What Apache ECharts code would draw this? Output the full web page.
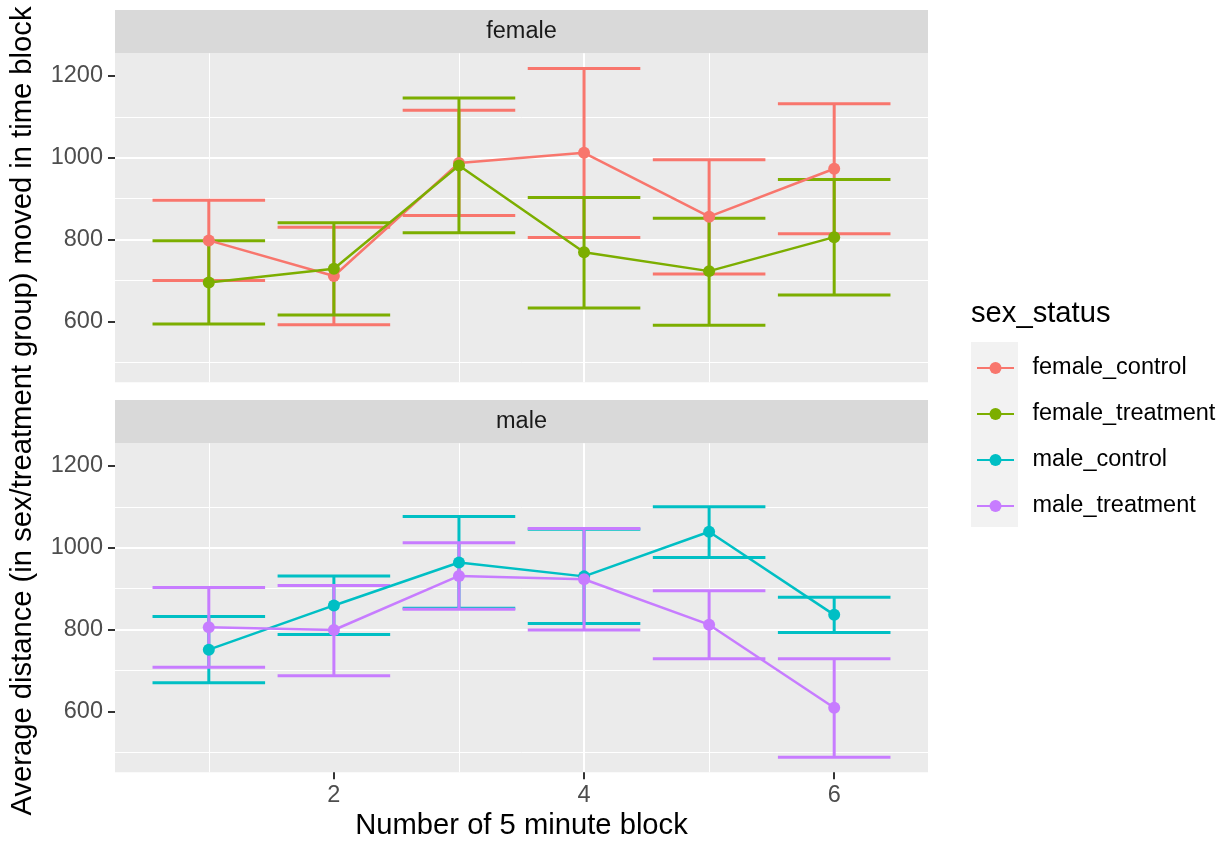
<!DOCTYPE html>
<html>
<head>
<meta charset="utf-8">
<script src="https://cdn.jsdelivr.net/npm/echarts@6/dist/echarts.min.js"></script>
<style>
  html, body { margin: 0; padding: 0; background: #ffffff; }
  #chart { width: 1225px; height: 841px; }
</style>
</head>
<body>
<div id="chart"></div>
<script>
// ---------------- data ----------------
const blocks = [1, 2, 3, 4, 5, 6];
const groupNames = ['female_control', 'female_treatment', 'male_control', 'male_treatment'];
const facetNames = ['female', 'male'];
const xTickLabels = [2, 4, 6];
const yTickLabels = [600, 800, 1000, 1200];

const femaleControlMean  = [798, 711, 987, 1012, 856, 973];
const femaleControlLower = [700, 592, 859, 805, 716, 814];
const femaleControlUpper = [896, 830, 1116, 1218, 995, 1132];

const femaleTreatmentMean  = [695, 729, 981, 769, 723, 806];
const femaleTreatmentLower = [594, 616, 817, 633, 591, 665];
const femaleTreatmentUpper = [797, 841, 1146, 903, 852, 947];

const maleControlMean  = [751, 859, 964, 930, 1039, 836];
const maleControlLower = [670, 788, 852, 815, 976, 793];
const maleControlUpper = [832, 931, 1076, 1045, 1100, 879];

const maleTreatmentMean  = [806, 799, 931, 923, 812, 609];
const maleTreatmentLower = [708, 687, 850, 799, 729, 488];
const maleTreatmentUpper = [903, 908, 1012, 1047, 895, 729];

// ---------------- styling / layout ----------------
const colors = ['#F8766D', '#7CAE00', '#00BFC4', '#C77CFF'];
const FONT = "'Liberation Sans', Arial, Helvetica, sans-serif";
const xRange = [0.25, 6.75];
const yRange = [451.5, 1255];
const capHalf = 0.45;

const groups = [
  { name: groupNames[0], facet: 0, mean: femaleControlMean, lower: femaleControlLower, upper: femaleControlUpper },
  { name: groupNames[1], facet: 0, mean: femaleTreatmentMean, lower: femaleTreatmentLower, upper: femaleTreatmentUpper },
  { name: groupNames[2], facet: 1, mean: maleControlMean, lower: maleControlLower, upper: maleControlUpper },
  { name: groupNames[3], facet: 1, mean: maleTreatmentMean, lower: maleTreatmentLower, upper: maleTreatmentUpper }
];

const panelLeft = 115, panelWidth = 813, panelHeight = 329;
const panelTops = [53.3, 443.3];
const stripHeight = 43.3;

function renderErrorBar(params, api) {
  const x = api.value(0), lo = api.value(1), hi = api.value(2);
  const a = api.coord([x - capHalf, hi]);
  const b = api.coord([x + capHalf, hi]);
  const c = api.coord([x - capHalf, lo]);
  const d = api.coord([x + capHalf, lo]);
  const m1 = api.coord([x, hi]);
  const m2 = api.coord([x, lo]);
  const style = { stroke: api.visual('color'), lineWidth: 3, fill: null };
  return {
    type: 'group',
    children: [
      { type: 'line', shape: { x1: m1[0], y1: m1[1], x2: m2[0], y2: m2[1] }, style: style },
      { type: 'line', shape: { x1: a[0], y1: a[1], x2: b[0], y2: b[1] }, style: style },
      { type: 'line', shape: { x1: c[0], y1: c[1], x2: d[0], y2: d[1] }, style: style }
    ]
  };
}

function plainNumber(v) { return String(v); }

function xAxisFor(idx, showLabels) {
  return {
    type: 'value', gridIndex: idx, min: xRange[0], max: xRange[1], splitNumber: 3,
    axisLine: { show: false },
    axisTick: { show: showLabels, length: 7, lineStyle: { color: '#333333', width: 2 }, customValues: xTickLabels },
    axisLabel: { show: showLabels, customValues: xTickLabels, formatter: plainNumber, margin: 11, fontSize: 23.5, color: '#4D4D4D', fontFamily: FONT },
    splitLine: { show: true, showMinLine: false, showMaxLine: false, lineStyle: { color: '#FFFFFF', width: 2 } },
    minorTick: { show: false, splitNumber: 2 },
    minorSplitLine: { show: true, lineStyle: { color: '#FFFFFF', width: 1 } }
  };
}
function yAxisFor(idx) {
  return {
    type: 'value', gridIndex: idx, min: yRange[0], max: yRange[1], splitNumber: 4,
    axisLine: { show: false },
    axisTick: { show: true, length: 7, lineStyle: { color: '#333333', width: 2 }, customValues: yTickLabels },
    axisLabel: { show: true, customValues: yTickLabels, formatter: plainNumber, margin: 12, fontSize: 23.5, color: '#4D4D4D', fontFamily: FONT },
    splitLine: { show: true, showMinLine: false, showMaxLine: false, lineStyle: { color: '#FFFFFF', width: 2 } },
    minorTick: { show: false, splitNumber: 2 },
    minorSplitLine: { show: true, lineStyle: { color: '#FFFFFF', width: 1 } }
  };
}

const series = [];
groups.forEach(function (g, gi) {
  series.push({
    type: 'custom', name: g.name + '_se', xAxisIndex: g.facet, yAxisIndex: g.facet,
    renderItem: renderErrorBar, z: 2, silent: true,
    itemStyle: { color: colors[gi] },
    encode: { x: 0, y: [1, 2] },
    data: blocks.map(function (b, i) { return [b, g.lower[i], g.upper[i]]; })
  });
});
groups.forEach(function (g, gi) {
  series.push({
    type: 'line', name: g.name, xAxisIndex: g.facet, yAxisIndex: g.facet, z: 3,
    symbol: 'circle', symbolSize: 12, showSymbol: true,
    lineStyle: { color: colors[gi], width: 2.5 },
    itemStyle: { color: colors[gi] },
    data: blocks.map(function (b, i) { return [b, g.mean[i]]; })
  });
});

const graphics = [];
facetNames.forEach(function (f, i) {
  graphics.push({
    type: 'rect', z: 0,
    shape: { x: panelLeft, y: panelTops[i] - stripHeight, width: panelWidth, height: stripHeight },
    style: { fill: '#D9D9D9' }
  });
  graphics.push({
    type: 'text', z: 1, x: panelLeft + panelWidth / 2, y: panelTops[i] - stripHeight + 21.9,
    style: { text: f, fill: '#1A1A1A', font: '23.5px ' + FONT, align: 'center', verticalAlign: 'middle' }
  });
});
graphics.push({
  type: 'text', x: 521.5, y: 826.4,
  style: { text: 'Number of 5 minute block', fill: '#000000', font: '29.2px ' + FONT, align: 'center', verticalAlign: 'middle' }
});
graphics.push({
  type: 'text', x: 23, y: 411, rotation: Math.PI / 2,
  style: { text: 'Average distance (in sex/treatment group) moved in time block', fill: '#000000', font: '29.2px ' + FONT, align: 'center', verticalAlign: 'middle' }
});
graphics.push({
  type: 'text', x: 971, y: 314.2,
  style: { text: 'sex_status', fill: '#000000', font: '29.2px ' + FONT, align: 'left', verticalAlign: 'middle' }
});
graphics.push({
  type: 'rect', z: 0,
  shape: { x: 971, y: 342, width: 47, height: 185 },
  style: { fill: '#F2F2F2' }
});

const chart = echarts.init(document.getElementById('chart'), null, { renderer: 'canvas' });
chart.setOption({
  animation: false,
  backgroundColor: '#FFFFFF',
  grid: [
    { left: panelLeft, top: panelTops[0], width: panelWidth, height: panelHeight, show: true, backgroundColor: '#EBEBEB', borderWidth: 0, containLabel: false },
    { left: panelLeft, top: panelTops[1], width: panelWidth, height: panelHeight, show: true, backgroundColor: '#EBEBEB', borderWidth: 0, containLabel: false }
  ],
  xAxis: [xAxisFor(0, false), xAxisFor(1, true)],
  yAxis: [yAxisFor(0), yAxisFor(1)],
  legend: {
    data: groupNames, orient: 'vertical', left: 976, top: 356, padding: 0,
    itemWidth: 37, itemHeight: 15, itemGap: 22, selectedMode: false, z: 10,
    textStyle: { fontSize: 23.5, color: '#000000', fontFamily: FONT, padding: [0, 0, 0, 13.5] }
  },
  graphic: graphics,
  series: series
});
</script>
</body>
</html>
